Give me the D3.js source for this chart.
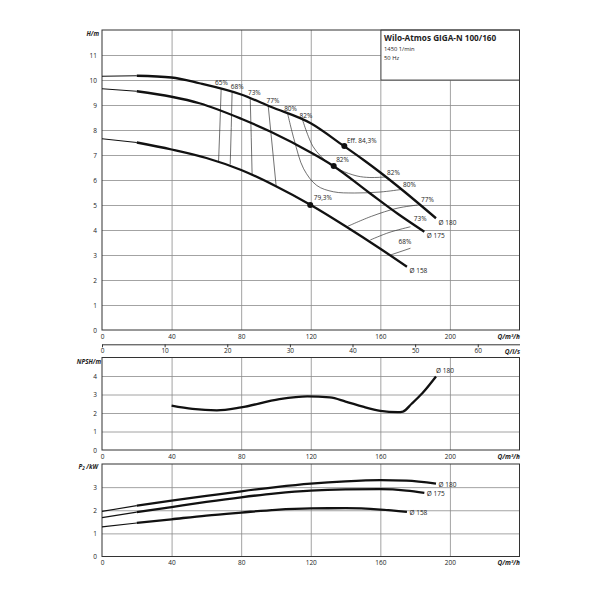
<!DOCTYPE html>
<html>
<head>
<meta charset="utf-8">
<script src="https://cdn.jsdelivr.net/npm/d3@7"></script>
<style>
  body { margin: 0; background: #fff; }
  text { font-family: "Open Sans", sans-serif; fill: #222; }
</style>
</head>
<body>
<div id="chart"></div>
<script>
// ---- data ----
var qTicks = [0, 40, 80, 120, 160, 200];
var lsTicks = [0, 10, 20, 30, 40, 50, 60];
var hTicks = [0, 1, 2, 3, 4, 5, 6, 7, 8, 9, 10, 11];
var npshTicks = [0, 1, 2, 3, 4];
var pTicks = [0, 1, 2, 3];
var impellers = ["Ø 180", "Ø 175", "Ø 158"];

// H(Q) per impeller, [Q m3/h, H m]
var head180 = [[0,10.15],[20,10.17],[40,10.1],[56,9.87],[80,9.42],[97,8.93],[120,8.27],[139,7.36],[150,6.82],[160,6.3],[173,5.58],[192,4.47]];
var head175 = [[0,9.65],[20,9.55],[40,9.33],[56,9.07],[80,8.45],[97,7.93],[120,7.1],[133,6.56],[154,5.47],[170,4.65],[185.3,3.93]];
var head158 = [[0,7.65],[20,7.5],[40,7.22],[60,6.88],[80,6.4],[100,5.75],[120,5.0],[140,4.15],[160,3.25],[175.3,2.53]];

// best efficiency points
var effPoints = [[139.3,7.36],[133.2,6.56],[119.7,5.0]];
var effText = ["Eff. 84,3%", "82%", "79,3%"];
var effTextAt = [[140.8,7.57],[134.6,6.8],[121.7,5.28]];

// iso efficiency lines
var iso65 = [[68.5,9.65],[67.8,8.2],[67,6.72]];
var iso68 = [[74.8,9.53],[74.3,8.1],[73.7,6.62]];
var iso73 = [[85.2,9.27],[85.8,7.7],[86.3,6.18]];
var iso77 = [[95.5,9.0],[97.8,7.4],[100.1,5.76]];
var iso80 = [[106.5,8.72],[110.5,7.6],[115.9,6.45],[123.5,5.78],[133,5.53],[145,5.48],[160,5.52],[172,5.62]];
var iso82 = [[115,8.47],[121.4,7.33],[129.3,6.73],[137,6.4],[146.6,6.16],[154,6.1],[163,6.12]];
var iso77r = [[141,4.14],[155,4.55],[169.6,4.87],[181.5,5.0]];
var iso73r = [[154.2,3.6],[165,3.9],[177.3,4.13]];
var iso68r = [[165.8,3.0],[177.3,3.27]];
var isoText = ["65%","68%","73%","77%","80%","82%","82%","80%","77%","73%","68%"];
var isoTextAt = [[65,9.91],[74,9.73],[83.9,9.49],[94.6,9.19],[104.7,8.87],[113.6,8.56],
                 [163.9,6.29],[173.1,5.8],[183.4,5.2],[179.2,4.47],[170.5,3.53]];

// NPSH (Ø 180 only)
var npsh180 = [[40,2.4],[52,2.22],[66,2.14],[80,2.3],[102,2.75],[118,2.9],[131,2.84],[140,2.62],[150,2.34],[160,2.12],[170,2.05],[173,2.08],[178,2.5],[184,3.05],[192,3.97]];

// P2 power per impeller, [Q, kW]
var power180 = [[0,1.95],[20,2.2],[40,2.42],[60,2.62],[80,2.82],[100,3.0],[120,3.15],[140,3.25],[160,3.3],[175,3.28],[192,3.15]];
var power175 = [[0,1.68],[20,1.92],[40,2.14],[60,2.36],[80,2.56],[100,2.73],[120,2.85],[140,2.9],[160,2.91],[175,2.85],[185.3,2.75]];
var power158 = [[0,1.28],[20,1.45],[40,1.61],[60,1.77],[80,1.9],[100,2.02],[120,2.08],[140,2.09],[160,2.03],[175.3,1.93]];

var thinEnd = 20; // left of this Q the curves are drawn thin

// ---- chart ----
var svg = d3.select("#chart").append("svg")
  .attr("width", 600)
  .attr("height", 600);

var x = d3.scaleLinear().domain([0, 240]).range([102, 519.5]);
var xls = d3.scaleLinear().domain([0, 240 / 3.6]).range([102, 519.5]);
var yH = d3.scaleLinear().domain([0, 12]).range([330, 30]);
var yN = d3.scaleLinear().domain([0, 5]).range([450, 357.5]);
var yP = d3.scaleLinear().domain([0, 4]).range([556.5, 464]);
var fmt = d3.format("d");

function drawPanel(y, yTicks) {
  var top = y.range()[1], bottom = y.range()[0];
  var g = svg.append("g");

  // grid
  g.append("g")
    .attr("transform", "translate(0," + bottom + ")")
    .call(d3.axisBottom(x).tickValues(qTicks.slice(1)).tickSize(-(bottom - top)).tickFormat(""))
    .call(function(a) { a.select(".domain").remove(); a.selectAll("line").attr("stroke", "#8c8c8c").attr("stroke-width", 0.8); });
  g.append("g")
    .attr("transform", "translate(" + x.range()[0] + ",0)")
    .call(d3.axisLeft(y).tickValues(yTicks.slice(1)).tickSize(-(x.range()[1] - x.range()[0])).tickFormat(""))
    .call(function(a) { a.select(".domain").remove(); a.selectAll("line").attr("stroke", "#8c8c8c").attr("stroke-width", 0.8); });

  // tick labels
  g.append("g")
    .attr("transform", "translate(0," + bottom + ")")
    .call(d3.axisBottom(x).tickValues(qTicks).tickFormat(fmt).tickSize(0).tickPadding(4))
    .call(function(a) { a.select(".domain").remove(); a.selectAll("text").attr("font-size", 6.5).attr("font-family", null); });
  g.append("g")
    .attr("transform", "translate(" + x.range()[0] + ",0)")
    .call(d3.axisLeft(y).tickValues(yTicks).tickFormat(fmt).tickSize(0).tickPadding(5))
    .call(function(a) { a.select(".domain").remove(); a.selectAll("text").attr("font-size", 6.5).attr("font-family", null); });

  g.append("text")
    .attr("x", 520).attr("y", bottom + 6.5).attr("dy", "0.35em")
    .attr("text-anchor", "end")
    .attr("font-size", 6.5).attr("font-weight", "bold").attr("font-style", "italic")
    .text("Q/m³/h");
  return g;
}

function frame(y) {
  svg.append("rect")
    .attr("x", x.range()[0]).attr("y", y.range()[1])
    .attr("width", x.range()[1] - x.range()[0])
    .attr("height", y.range()[0] - y.range()[1])
    .attr("fill", "none").attr("stroke", "#333").attr("stroke-width", 1);
}

function curve(y, pts, split) {
  var line = d3.line().x(function(d) { return x(d[0]); }).y(function(d) { return y(d[1]); }).curve(d3.curveMonotoneX);
  if (split) {
    svg.append("path").attr("d", line(pts.filter(function(d) { return d[0] <= thinEnd; })))
      .attr("fill", "none").attr("stroke", "#111").attr("stroke-width", 1.1);
    pts = pts.filter(function(d) { return d[0] >= thinEnd; });
  }
  svg.append("path").attr("d", line(pts))
    .attr("fill", "none").attr("stroke", "#111").attr("stroke-width", 2.3);
}

function label(px, py, txt, size) {
  svg.append("text").attr("x", px).attr("y", py).attr("dy", "0.35em")
    .attr("font-size", size || 6.5).text(txt);
}

// ---------- H panel ----------
drawPanel(yH, hTicks);

// title box covers the top right grid
svg.append("rect").attr("x", 381).attr("y", 30).attr("width", 138.5).attr("height", 50)
  .attr("fill", "#fff").attr("stroke", "#333").attr("stroke-width", 0.8);
svg.append("text").attr("x", 384).attr("y", 38.5).attr("dy", "0.35em")
  .attr("font-size", 8.2).attr("font-weight", "bold").text("Wilo-Atmos GIGA-N 100/160");
label(384, 49, "1450 1/min", 5.8);
label(384, 58, "50 Hz", 5.8);
frame(yH);

svg.append("text").attr("x", 99).attr("y", 34).attr("dy", "0.35em").attr("text-anchor", "end")
  .attr("font-size", 6.2).attr("font-weight", "bold").attr("font-style", "italic").text("H/m");

// iso efficiency lines
var isoLine = d3.line().x(function(d) { return x(d[0]); }).y(function(d) { return yH(d[1]); }).curve(d3.curveMonotoneY);
var isoSmooth = d3.line().x(function(d) { return x(d[0]); }).y(function(d) { return yH(d[1]); }).curve(d3.curveCatmullRom);
[iso65, iso68, iso73, iso77].forEach(function(l) {
  svg.append("path").attr("d", isoLine(l)).attr("fill", "none").attr("stroke", "#333").attr("stroke-width", 0.7);
});
[iso80, iso82, iso77r, iso73r, iso68r].forEach(function(l) {
  svg.append("path").attr("d", isoSmooth(l)).attr("fill", "none").attr("stroke", "#333").attr("stroke-width", 0.7);
});
isoText.forEach(function(t, i) {
  label(x(isoTextAt[i][0]), yH(isoTextAt[i][1]), t);
});

// head curves
var heads = [head180, head175, head158];
heads.forEach(function(h, i) {
  curve(yH, h, true);
  var last = h[h.length - 1];
  label(x(last[0]) + 2.5, yH(last[1]) + 4.3, impellers[i]);
});

// efficiency points
effPoints.forEach(function(p, i) {
  svg.append("circle").attr("cx", x(p[0])).attr("cy", yH(p[1])).attr("r", 3).attr("fill", "#111");
  label(x(effTextAt[i][0]), yH(effTextAt[i][1]), effText[i]);
});

// l/s axis
var lsAxis = svg.append("g")
  .attr("transform", "translate(0,344.3)")
  .call(d3.axisBottom(xls).tickValues(lsTicks).tickFormat(fmt).tickSize(3).tickSizeOuter(0).tickPadding(1.5));
lsAxis.select(".domain").attr("stroke", "#333");
lsAxis.selectAll("line").attr("stroke", "#333");
lsAxis.selectAll("text").attr("font-size", 6.5).attr("font-family", null);
svg.append("text").attr("x", 520).attr("y", 351.7).attr("dy", "0.35em").attr("text-anchor", "end")
  .attr("font-size", 6.5).attr("font-weight", "bold").attr("font-style", "italic").text("Q/l/s");

// ---------- NPSH panel ----------
drawPanel(yN, npshTicks);
frame(yN);
svg.append("text").attr("x", 101).attr("y", 362).attr("dy", "0.35em").attr("text-anchor", "end")
  .attr("font-size", 6.2).attr("font-weight", "bold").attr("font-style", "italic").text("NPSH/m");
curve(yN, npsh180, false);
var nl = npsh180[npsh180.length - 1];
label(x(nl[0]), yN(nl[1]) - 5.5, impellers[0]);

// ---------- P2 panel ----------
drawPanel(yP, pTicks);
frame(yP);
var pl = svg.append("text").attr("x", 98).attr("y", 466.5).attr("dy", "0.35em").attr("text-anchor", "end")
  .attr("font-size", 6.2).attr("font-weight", "bold").attr("font-style", "italic");
pl.append("tspan").text("P");
pl.append("tspan").attr("font-size", 4.5).attr("dy", "1.5").text("2");
pl.append("tspan").attr("dy", "-1.5").text(" /kW");

[power180, power175, power158].forEach(function(p, i) {
  curve(yP, p, true);
  var last = p[p.length - 1];
  label(x(last[0]) + 2.5, yP(last[1]) + 0.8, impellers[i]);
});
</script>
</body>
</html>
